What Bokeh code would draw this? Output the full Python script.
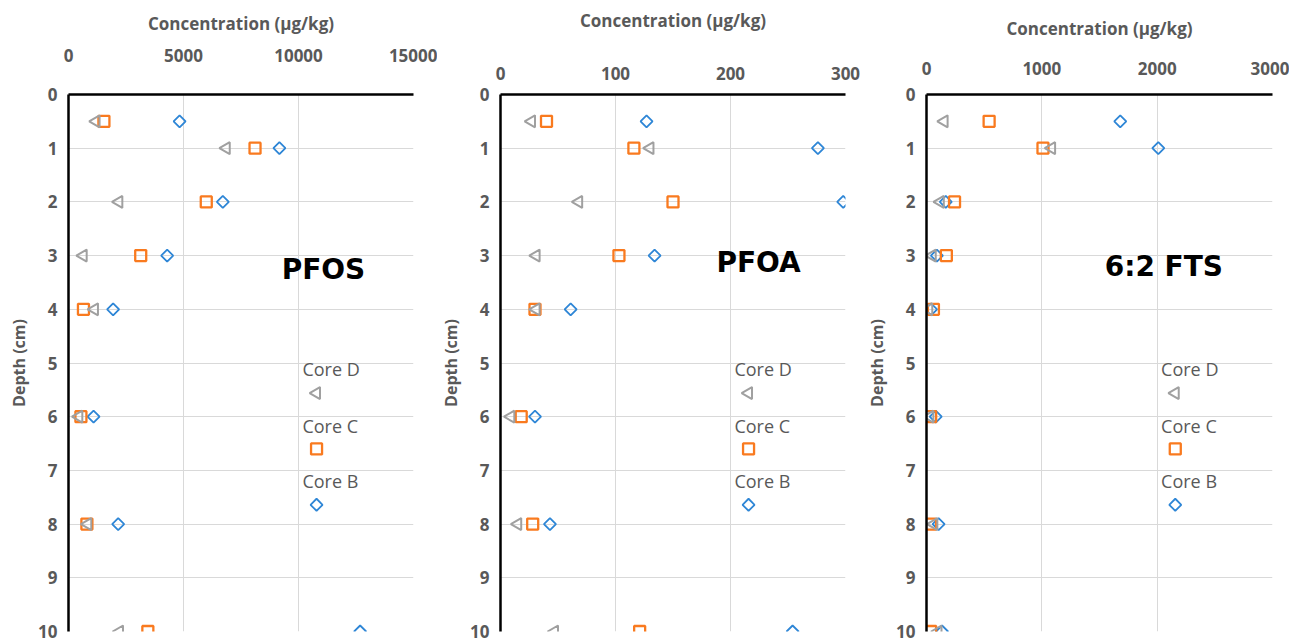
import numpy as np
from bokeh.plotting import figure
from bokeh.layouts import row
from bokeh.models import Range1d, FixedTicker, Label
from bokeh.embed import file_html
from bokeh.resources import INLINE

# ---------------- data ----------------
depth = [0.5, 1, 2, 3, 4, 6, 8, 10]
core_names = ["Core D", "Core C", "Core B"]

pfos_core_b = [4830, 9170, 6710, 4290, 1940, 1090, 2160, 12680]
pfos_core_c = [1540, 8110, 5990, 3140, 650, 540, 800, 3450]
pfos_core_d = [1200, 6860, 2190, 640, 1130, 450, 840, 2220]

pfoa_core_b = [127, 276, 298, 134, 61, 30, 43, 254]
pfoa_core_c = [40, 116, 150, 103, 30, 18, 28, 121]
pfoa_core_d = [27, 130, 68, 31, 31, 9, 15, 47]

fts_core_b = [1680, 2010, 167, 90, 40, 80, 105, 135]
fts_core_c = [543, 1010, 243, 172, 60, 36, 36, 36]
fts_core_d = [153, 1085, 120, 50, 20, 30, 64, 100]

pfos_ticks = [0, 5000, 10000, 15000]
pfoa_ticks = [0, 100, 200, 300]
fts_ticks = [0, 1000, 2000, 3000]
depth_ticks = list(range(0, 11))

x_title = "Concentration (\u03bcg/kg)"
y_title = "Depth (cm)"

# ---------------- style ----------------
COLOR_B = "#2E86D6"
COLOR_C = "#F97A1F"
COLOR_D = "#A0A0A0"
TEXT_GREY = "#595959"
GRID = "#D9D9D9"
FONT = "Open Sans"


def make_panel(name, xticks, ser_b, ser_c, ser_d, width, b_left, b_right,
               tick_standoff, title_standoff, name_pos):
    p = figure(width=width, height=639, title=None,
               x_range=Range1d(xticks[0], xticks[-1]),
               y_range=Range1d(depth_ticks[-1], depth_ticks[0]),
               x_axis_location="above",
               output_backend="svg", toolbar_location=None,
               min_border_left=b_left, min_border_right=b_right,
               min_border_top=94, min_border_bottom=8)
    p.outline_line_color = None
    p.background_fill_color = "white"

    for ax in (p.xaxis[0], p.yaxis[0]):
        ax.axis_line_color = "black"
        ax.axis_line_width = 2.5
        ax.major_tick_line_color = None
        ax.minor_tick_line_color = None
        ax.major_tick_out = 0
        ax.major_tick_in = 0
        ax.major_label_text_font = FONT
        ax.major_label_text_font_style = "bold"
        ax.major_label_text_font_size = "17px"
        ax.major_label_text_color = TEXT_GREY
        ax.axis_label_text_font = FONT
        ax.axis_label_text_font_style = "bold"
        ax.axis_label_text_color = TEXT_GREY
    p.xaxis.ticker = FixedTicker(ticks=xticks)
    p.yaxis.ticker = FixedTicker(ticks=depth_ticks)
    p.xaxis.major_label_standoff = tick_standoff
    p.xaxis.axis_label = x_title
    p.xaxis.axis_label_standoff = title_standoff
    p.xaxis.axis_label_text_font_size = "17px"
    p.yaxis.major_label_standoff = 11
    p.yaxis.axis_label = y_title
    p.yaxis.axis_label_standoff = 5
    p.yaxis.axis_label_text_font_size = "16px"

    p.xgrid.ticker = FixedTicker(ticks=xticks)
    p.ygrid.ticker = FixedTicker(ticks=depth_ticks)
    p.xgrid.grid_line_color = GRID
    p.ygrid.grid_line_color = GRID
    p.xgrid.grid_line_width = 1
    p.ygrid.grid_line_width = 1

    p.scatter(ser_b, depth, marker="square", angle=np.pi / 4, size=8.5,
              fill_color=None, line_color=COLOR_B, line_width=1.8)
    p.scatter(ser_c, depth, marker="square", size=11,
              fill_color=None, line_color=COLOR_C, line_width=2.3)
    p.scatter(ser_d, depth, marker="triangle", angle=np.pi / 2, size=12,
              fill_color=None, line_color=COLOR_D, line_width=2)

    xmax = xticks[-1]
    # panel name
    p.add_layout(Label(x=name_pos[0] * xmax, y=name_pos[1], text=name,
                       text_font="DejaVu Sans",
                       text_font_style="bold", text_font_size="28px",
                       text_color="black", text_align="center",
                       text_baseline="middle"))

    # legend (label above marker)
    leg_text_x = 0.678 * xmax
    leg_mark_x = 0.719 * xmax
    text_depths = [5.12, 6.18, 7.20]
    mark_depths = [5.56, 6.60, 7.64]
    for nm, ty in zip(core_names, text_depths):
        p.add_layout(Label(x=leg_text_x, y=ty, text=nm, text_font=FONT,
                           text_font_size="18px", text_color=TEXT_GREY,
                           text_align="left", text_baseline="middle"))
    p.scatter([leg_mark_x], [mark_depths[0]], marker="triangle",
              angle=np.pi / 2, size=12, fill_color=None,
              line_color=COLOR_D, line_width=2)
    p.scatter([leg_mark_x], [mark_depths[1]], marker="square", size=11,
              fill_color=None, line_color=COLOR_C, line_width=2.3)
    p.scatter([leg_mark_x], [mark_depths[2]], marker="square",
              angle=np.pi / 4, size=8.5, fill_color=None,
              line_color=COLOR_B, line_width=1.8)
    return p


p1 = make_panel("PFOS", pfos_ticks, pfos_core_b, pfos_core_c, pfos_core_d,
                width=437, b_left=68, b_right=24,
                tick_standoff=33, title_standoff=11, name_pos=(0.739, 3.255))
p2 = make_panel("PFOA", pfoa_ticks, pfoa_core_b, pfoa_core_c, pfoa_core_d,
                width=426, b_left=63, b_right=18,
                tick_standoff=15, title_standoff=32, name_pos=(0.748, 3.13))
p3 = make_panel("6:2 FTS", fts_ticks, fts_core_b, fts_core_c, fts_core_d,
                width=426, b_left=63, b_right=17,
                tick_standoff=20, title_standoff=19, name_pos=(0.686, 3.2))

layout = row(p1, p2, p3, spacing=0)
open("out.html", "w").write(file_html(layout, INLINE))
